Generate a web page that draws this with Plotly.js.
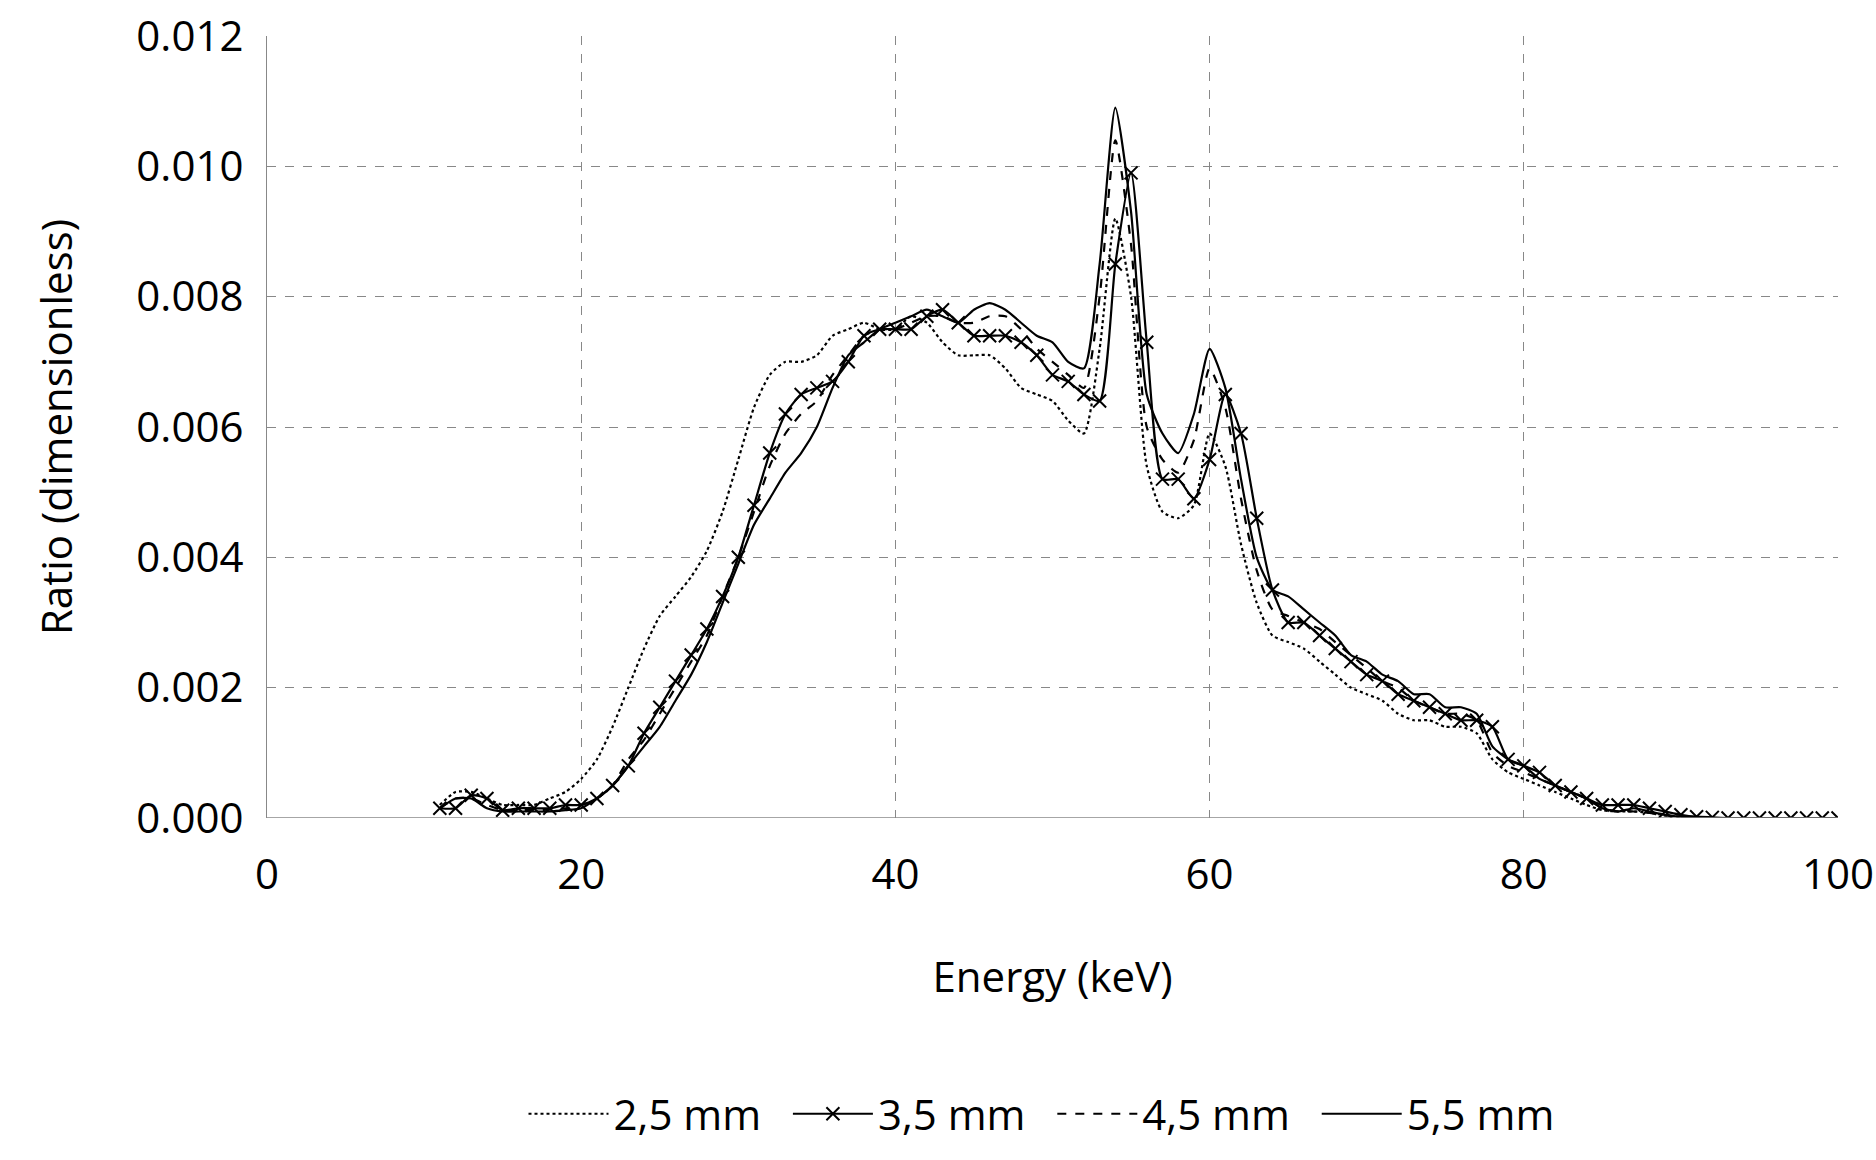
<!DOCTYPE html>
<html>
<head>
<meta charset="utf-8">
<script src="https://cdn.plot.ly/plotly-3.0.1.min.js"></script>
<style>body{margin:0;background:#fff}#chart{width:1876px;height:1160px}</style>
</head>
<body>
<div id="chart"></div>
<script>
// energy grid, 1 keV steps from 11 to 100
var energy = [];
for (var e = 11; e <= 100; e++) energy.push(e);

var mm25 = [0.0002,0.0004,0.0004,0.0003,0.0002,0.0002,0.0002,0.0003,0.0004,0.0006,
  0.0009,0.0014,0.0020,0.0026,0.0031,0.0034,0.0037,0.0041,0.0047,0.0055,
  0.0063,0.0068,0.0070,0.0070,0.0071,0.0074,0.0075,0.0076,0.0075,0.0075,
  0.0077,0.0076,0.0073,0.0071,0.0071,0.0071,0.0069,0.0066,0.0065,0.0064,
  0.0061,0.0059,0.0072,0.0092,0.0080,0.0054,0.0047,0.0046,0.0048,0.0059,
  0.0054,0.0042,0.0033,0.0028,0.0027,0.0026,0.0024,0.0022,0.0020,0.0019,
  0.0018,0.0016,0.0015,0.0015,0.0014,0.0014,0.0013,0.0009,0.0007,0.0006,
  0.0005,0.0004,0.0003,0.0002,0.00012,0.0001,0.0001,0.00008,0.00004,0.00002,
  0,0,0,0,0,0,0,0,0,0];

var mm35 = [0.00015,0.00015,0.00035,0.0003,0.00012,0.00015,0.00015,0.00015,0.0002,0.0002,
  0.0003,0.0005,0.0008,0.0013,0.0017,0.0021,0.0025,0.0029,0.0034,0.0040,
  0.0048,0.0056,0.0062,0.0065,0.0066,0.0067,0.0070,0.0074,0.0075,0.0075,
  0.0075,0.0077,0.0078,0.0076,0.0074,0.0074,0.0074,0.0073,0.0071,0.0068,
  0.0067,0.0065,0.0064,0.0085,0.0099,0.0073,0.0052,0.0052,0.0049,0.0055,
  0.0065,0.0059,0.0046,0.0035,0.0030,0.0030,0.0028,0.0026,0.0024,0.0022,
  0.0021,0.0019,0.0018,0.0017,0.0016,0.0015,0.0015,0.0014,0.0009,0.0008,
  0.0007,0.0005,0.0004,0.0003,0.0002,0.0002,0.0002,0.00015,0.0001,0.00005,
  0.00002,0.00001,0,0,0,0,0,0,0,0];

var mm45 = [0.00015,0.0003,0.0003,0.0002,0.00012,0.00012,0.00012,0.00013,0.00015,0.0002,
  0.0003,0.0005,0.0009,0.0012,0.0016,0.0020,0.0024,0.0028,0.0034,0.0040,
  0.0047,0.0054,0.0059,0.0062,0.0064,0.0068,0.0071,0.0074,0.0075,0.0075,
  0.0076,0.0077,0.0077,0.0076,0.0076,0.0077,0.0077,0.0075,0.0072,0.0070,
  0.0068,0.0066,0.0080,0.0104,0.0088,0.0060,0.0055,0.0053,0.0058,0.0069,
  0.0063,0.0049,0.0038,0.0032,0.0031,0.0030,0.0029,0.0027,0.0025,0.0023,
  0.0021,0.0020,0.0018,0.0017,0.0016,0.0016,0.0015,0.0010,0.0008,0.0007,
  0.0006,0.0005,0.0004,0.0003,0.00015,0.0001,0.0001,0.00008,0.00004,0.00002,
  0,0,0,0,0,0,0,0,0,0];

var mm55 = [0.00015,0.0003,0.0003,0.00015,0.0001,0.0001,0.0001,0.0001,0.00012,0.00015,
  0.0003,0.0005,0.0008,0.0011,0.0014,0.0018,0.0022,0.0027,0.0033,0.0039,
  0.0045,0.0049,0.0053,0.0056,0.0060,0.0066,0.0071,0.0073,0.0075,0.0076,
  0.0077,0.0078,0.0077,0.0076,0.0078,0.0079,0.0078,0.0076,0.0074,0.0073,
  0.0070,0.0069,0.0085,0.0109,0.0093,0.0065,0.0059,0.0056,0.0062,0.0072,
  0.0066,0.0052,0.0040,0.0035,0.0034,0.0032,0.0030,0.0028,0.0025,0.0024,
  0.0022,0.0021,0.0019,0.0019,0.0017,0.0017,0.0016,0.0011,0.0009,0.0008,
  0.0006,0.0005,0.0004,0.0003,0.00015,0.0001,0.00015,0.0001,0.00005,0.00002,
  0,0,0,0,0,0,0,0,0,0];

var names = ['2,5 mm', '3,5 mm', '4,5 mm', '5,5 mm'];
var font = '"Open Sans", sans-serif';

function tr(y, name, dash, markers) {
  return {
    x: energy, y: y, name: name + '  ', type: 'scatter',
    mode: markers ? 'lines+markers' : 'lines',
    line: {color: '#000', width: 2.2, dash: dash, shape: 'spline', smoothing: 0.6},
    marker: {symbol: 'x-thin-open', size: 13, line: {color: '#000', width: 2}}
  };
}

var data = [
  tr(mm25, names[0], 'dot', false),
  tr(mm35, names[1], 'solid', true),
  tr(mm45, names[2], 'dash', false),
  tr(mm55, names[3], 'solid', false)
];

var grid = {showgrid: true, gridcolor: '#888', griddash: 'dash', gridwidth: 1.3, zeroline: false,
  showline: false, ticks: '', automargin: false, tickfont: {family: font, size: 42, color: '#000'}};

var layout = {
  width: 1876, height: 1160,
  margin: {l: 267, r: 38, t: 36, b: 331},
  paper_bgcolor: '#fff', plot_bgcolor: '#fff',
  font: {family: font, color: '#000'},
  xaxis: Object.assign({}, grid, {range: [0, 100], dtick: 20, ticklabelstandoff: 28,
    title: {text: 'Energy (keV)', font: {family: font, size: 42}, standoff: 62}}),
  yaxis: Object.assign({}, grid, {range: [0, 0.012], dtick: 0.002, tickformat: '.3f', ticklabelstandoff: 14,
    showline: true, linecolor: '#888', linewidth: 1.3,
    title: {text: 'Ratio (dimensionless)', font: {family: font, size: 42}, standoff: 50}}),
  shapes: [{type: 'line', xref: 'paper', yref: 'y', x0: 0, x1: 1, y0: 0, y1: 0,
    line: {color: '#888', width: 1.5}}],
  legend: {orientation: 'h', x: 0.5, xanchor: 'center', y: -0.335, yanchor: 'top',
    font: {family: font, size: 42}, itemwidth: 80, tracegroupgap: 0},
  showlegend: true
};

Plotly.newPlot('chart', data, layout, {displayModeBar: false});
</script>
</body>
</html>
